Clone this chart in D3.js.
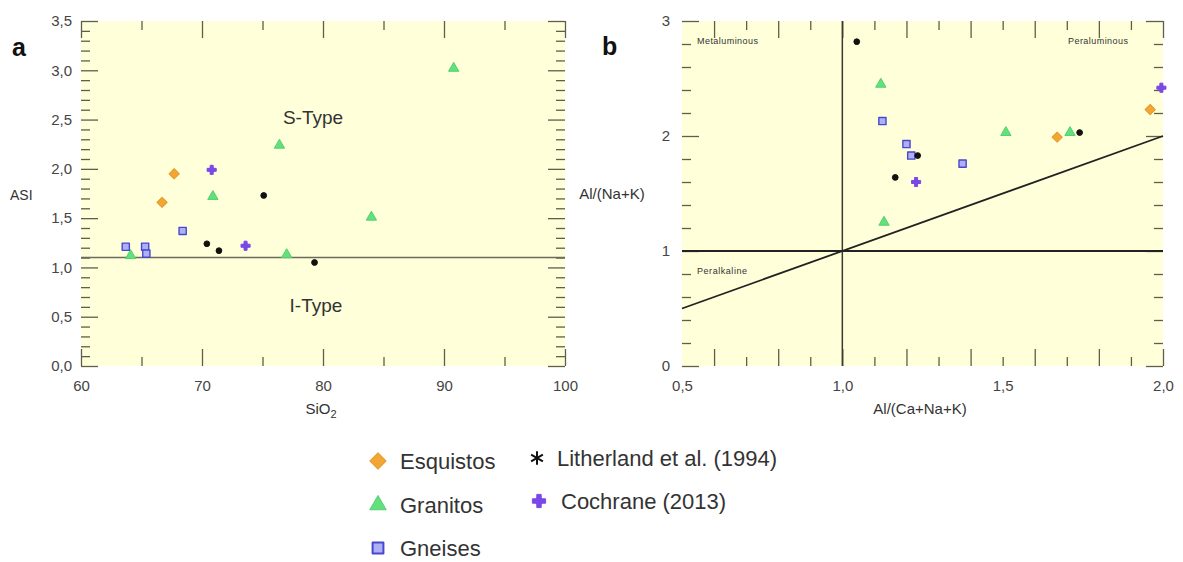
<!DOCTYPE html>
<html>
<head>
<meta charset="utf-8">
<script src="https://cdn.jsdelivr.net/npm/d3@7"></script>
<style>
  body { margin: 0; background: #ffffff; }
  svg { display: block; font-family: "Liberation Sans", Arial, sans-serif; }
</style>
</head>
<body>
<svg id="chart" width="1183" height="562"></svg>
<script>
// ---------- Panel a: ASI vs SiO2 ----------
const esquistosA   = [[67.7, 1.95], [66.7, 1.66]];
const granitosA    = [[90.8, 3.02], [76.4, 2.24], [70.9, 1.72], [84.0, 1.51], [77.0, 1.13], [64.1, 1.12]];
const gneisesA     = [[63.7, 1.21], [65.3, 1.21], [65.4, 1.14], [68.4, 1.37]];
const litherlandA  = [[75.1, 1.73], [70.4, 1.24], [71.4, 1.17], [79.3, 1.05]];
const cochraneA    = [[70.8, 1.99], [73.6, 1.22]];
const asiBoundary  = 1.1;

// ---------- Panel b: Al/(Na+K) vs Al/(Ca+Na+K) ----------
const esquistosB   = [[1.67, 1.99], [1.96, 2.23]];
const granitosB    = [[1.12, 2.45], [1.13, 1.25], [1.51, 2.03], [1.71, 2.03]];
const gneisesB     = [[1.125, 2.13], [1.20, 1.93], [1.215, 1.83], [1.375, 1.76]];
const litherlandB  = [[1.045, 2.82], [1.235, 1.83], [1.165, 1.64], [1.74, 2.03]];
const cochraneB    = [[1.23, 1.60], [1.995, 2.42]];
const acnkLine     = 1.0;               // vertical divider A/CNK = 1
const ankLine      = 1.0;               // horizontal divider A/NK = 1
const diagonalLine = [[0.5, 0.5], [2.0, 2.0]];

// ---------- Tick labels ----------
const xTicksA = [60, 70, 80, 90, 100];
const yTicksA = [0, 0.5, 1.0, 1.5, 2.0, 2.5, 3.0, 3.5];
const xTicksB = [0.5, 1.0, 1.5, 2.0];
const yTicksB = [0, 1, 2, 3];

const seriesNames = ["Esquistos", "Granitos", "Gneises", "Litherland et al. (1994)", "Cochrane (2013)"];

const ptLocale = d3.formatLocale({ decimal: ",", thousands: ".", grouping: [3], currency: ["", ""] });
const fmt1 = ptLocale.format(".1f");
const fmt0 = ptLocale.format(".0f");

const svg = d3.select("#chart");
const BG = "#ffffda";
const TICKCOL = "#5e5e4a";
const LABELCOL = "#454545";

// Marker styles per series
const styles = [
  { type: "diamond",  fill: "#f2a735", stroke: "#e59a2a" },
  { type: "triangle", fill: "#62e07c", stroke: "#55d070" },
  { type: "square",   fill: "#aeb0f6", stroke: "#4848cc" },
  { type: "dot",      fill: "#111",    stroke: "#111" },
  { type: "cross",    fill: "#7a48e6", stroke: "#7a48e6" }
];

function markerPath(type, scale) {
  const s = scale || 1;
  switch (type) {
    case "diamond":  return d3.symbol().type(d3.symbolSquare).size(52 * s * s)();
    case "triangle": return d3.symbol().type(d3.symbolTriangle).size(46 * s * s)();
    case "square":   return d3.symbol().type(d3.symbolSquare).size(52 * s * s)();
    case "dot":      return d3.symbol().type(d3.symbolCircle).size(26 * s * s)();
    case "cross":    return d3.symbol().type(d3.symbolCross).size(46 * s * s)();
  }
}

// Cochrane marker: a small diamond with a cross laid over it
function drawCochrane(g, cx, cy, s, col) {
  const grp = g.append("g").attr("transform", `translate(${cx},${cy})`);
  grp.append("path").attr("d", d3.symbol().type(d3.symbolSquare).size(30 * s * s)())
    .attr("transform", "rotate(45)").attr("fill", col);
  grp.append("path").attr("d", markerPath("cross", s))
    .attr("fill", col).attr("stroke", col).attr("stroke-width", 1).attr("stroke-linejoin", "round");
}

function drawMarkers(g, data, style, x, y) {
  if (style.type === "cross") {
    data.forEach(d => drawCochrane(g, x(d[0]), y(d[1]), 1, style.fill));
    return;
  }
  g.selectAll(null).data(data).enter().append("path")
    .attr("d", markerPath(style.type))
    .attr("transform", d => `translate(${x(d[0])},${y(d[1])})` + (style.type === "diamond" ? " rotate(45)" : ""))
    .attr("fill", style.fill)
    .attr("stroke", style.stroke)
    .attr("stroke-width", style.type === "square" ? 1.4 : 1)
    .attr("stroke-linejoin", "round");
}

function axisGroup(g, axis, tx, ty) {
  const a = g.append("g").attr("transform", `translate(${tx},${ty})`).call(axis);
  a.select(".domain").remove();
  a.selectAll(".tick line").attr("stroke", TICKCOL).attr("stroke-width", 1.3);
  a.selectAll("text").attr("fill", LABELCOL).style("font-size", "15px").style("font-family", "Liberation Sans, Arial, sans-serif");
  return a;
}

function frameAxes(g, x, y, spec) {
  const [x0, x1] = x.range();
  const [y0, y1] = y.range(); // y0 bottom, y1 top
  g.append("rect").attr("x", x0).attr("y", y1).attr("width", x1 - x0).attr("height", y0 - y1)
    .attr("fill", BG);
  // long / short ticks on all four sides, pointing inward
  [[spec.xMajor, 17], [spec.xMinor, 9]].forEach(([vals, len]) => {
    axisGroup(g, d3.axisBottom(x).tickValues(vals).tickSize(-len).tickFormat(""), 0, y0);
    axisGroup(g, d3.axisTop(x).tickValues(vals).tickSize(-len).tickFormat(""), 0, y1);
  });
  [[spec.yMajor, 17], [spec.yMinor, 9]].forEach(([vals, len]) => {
    axisGroup(g, d3.axisLeft(y).tickValues(vals).tickSize(-len).tickFormat(""), x0, 0);
    axisGroup(g, d3.axisRight(y).tickValues(vals).tickSize(-len).tickFormat(""), x1, 0);
  });
  // labels
  axisGroup(g, d3.axisBottom(x).tickValues(spec.xLabels).tickSize(0).tickPadding(14).tickFormat(spec.xFmt), 0, y0);
  axisGroup(g, d3.axisLeft(y).tickValues(spec.yLabels).tickSize(0).tickPadding(spec.yPad).tickFormat(spec.yFmt), x0, 0);
}

// ================= Panel a =================
const xA = d3.scaleLinear().domain([60, 100]).range([81, 565]);
const yA = d3.scaleLinear().domain([0, 3.5]).range([366, 21]);
const gA = svg.append("g");
frameAxes(gA, xA, yA, {
  xMajor: xTicksA, xMinor: [65, 75, 85, 95],
  yMajor: yTicksA, yMinor: d3.range(1, 35).filter(i => i % 5 !== 0).map(i => i / 10),
  xLabels: xTicksA, yLabels: yTicksA,
  xFmt: fmt0, yFmt: fmt1, yPad: 9
});
gA.append("line")
  .attr("x1", xA(60)).attr("x2", xA(100))
  .attr("y1", yA(asiBoundary)).attr("y2", yA(asiBoundary))
  .attr("stroke", "#6b6b5c").attr("stroke-width", 1.6);

gA.append("text").attr("x", 313).attr("y", 124).attr("text-anchor", "middle")
  .attr("fill", "#333").style("font-size", "19px").text("S-Type");
gA.append("text").attr("x", 316).attr("y", 312).attr("text-anchor", "middle")
  .attr("fill", "#333").style("font-size", "19px").text("I-Type");

[esquistosA, granitosA, gneisesA, litherlandA, cochraneA].forEach((d, i) => drawMarkers(gA, d, styles[i], xA, yA));

gA.append("text").attr("x", 12).attr("y", 56).attr("fill", "#111")
  .style("font-size", "25px").style("font-weight", "bold").text("a");
gA.append("text").attr("x", 10).attr("y", 200).attr("fill", "#333").style("font-size", "14px").text("ASI");
const sio2 = gA.append("text").attr("x", 321).attr("y", 414).attr("text-anchor", "middle")
  .attr("fill", "#333").style("font-size", "15px");
sio2.append("tspan").text("SiO");
sio2.append("tspan").attr("dy", 4).style("font-size", "11px").text("2");

// ================= Panel b =================
const xB = d3.scaleLinear().domain([0.5, 2.0]).range([682, 1163]);
const yB = d3.scaleLinear().domain([0, 3]).range([366, 21]);
const gB = svg.append("g");
frameAxes(gB, xB, yB, {
  xMajor: [6, 8, 10, 12, 14, 16, 18, 20].map(v => v / 10),
  xMinor: [7, 9, 11, 13, 15, 17, 19].map(v => v / 10),
  yMajor: yTicksB,
  yMinor: d3.range(1, 15).filter(i => i % 5 !== 0).map(i => i / 5),
  xLabels: xTicksB, yLabels: yTicksB,
  xFmt: fmt1, yFmt: fmt0, yPad: 12
});

const lineGen = d3.line().x(d => xB(d[0])).y(d => yB(d[1]));
gB.append("line").attr("x1", xB(acnkLine)).attr("x2", xB(acnkLine)).attr("y1", yB(0)).attr("y2", yB(3))
  .attr("stroke", "#3a3a30").attr("stroke-width", 1.5);
gB.append("line").attr("x1", xB(0.5)).attr("x2", xB(2.0)).attr("y1", yB(ankLine)).attr("y2", yB(ankLine))
  .attr("stroke", "#222").attr("stroke-width", 1.8);
gB.append("path").attr("d", lineGen(diagonalLine)).attr("fill", "none")
  .attr("stroke", "#222").attr("stroke-width", 1.8);

gB.append("text").attr("x", 697).attr("y", 44).attr("fill", "#333").style("font-size", "9px")
  .attr("textLength", 61).text("Metaluminous");
gB.append("text").attr("x", 1068).attr("y", 44).attr("fill", "#333").style("font-size", "9px")
  .attr("textLength", 60).text("Peraluminous");
gB.append("text").attr("x", 697).attr("y", 274).attr("fill", "#333").style("font-size", "9px")
  .attr("textLength", 50).text("Peralkaline");

[esquistosB, granitosB, gneisesB, litherlandB, cochraneB].forEach((d, i) => drawMarkers(gB, d, styles[i], xB, yB));

gB.append("text").attr("x", 602).attr("y", 55).attr("fill", "#111")
  .style("font-size", "25px").style("font-weight", "bold").text("b");
gB.append("text").attr("x", 612).attr("y", 199).attr("text-anchor", "middle")
  .attr("fill", "#333").style("font-size", "15px").text("Al/(Na+K)");
gB.append("text").attr("x", 920).attr("y", 414).attr("text-anchor", "middle")
  .attr("fill", "#333").style("font-size", "15px").text("Al/(Ca+Na+K)");

// ================= Legend =================
const legendItems = [
  { name: seriesNames[0], style: styles[0], x: 378, y: 461 },
  { name: seriesNames[1], style: styles[1], x: 378, y: 505 },
  { name: seriesNames[2], style: styles[2], x: 378, y: 548 },
  { name: seriesNames[3], style: styles[3], x: 537, y: 458 },
  { name: seriesNames[4], style: styles[4], x: 539, y: 501 }
];
const lg = svg.append("g");
legendItems.forEach(it => {
  const st = it.style;
  if (st.type === "dot") {
    lg.append("path").attr("d", d3.symbol().type(d3.symbolAsterisk).size(130)())
      .attr("transform", `translate(${it.x},${it.y})`)
      .attr("fill", "none").attr("stroke", "#111").attr("stroke-width", 2);
  } else if (st.type === "cross") {
    drawCochrane(lg, it.x, it.y, 1.45, st.fill);
  } else {
    const extra = st.type === "diamond" ? " rotate(45)" : "";
    lg.append("path").attr("d", markerPath(st.type, st.type === "square" ? 1.5 : 1.6))
      .attr("transform", `translate(${it.x},${it.y})` + extra)
      .attr("fill", st.fill).attr("stroke", st.stroke).attr("stroke-width", st.type === "square" ? 2 : 1)
      .attr("stroke-linejoin", "round");
  }
  lg.append("text").attr("x", it.x + (st.type === "dot" ? 20 : 22))
    .attr("y", it.y).attr("dy", "0.36em").attr("fill", "#333").style("font-size", "22px").text(it.name);
});
</script>
</body>
</html>
